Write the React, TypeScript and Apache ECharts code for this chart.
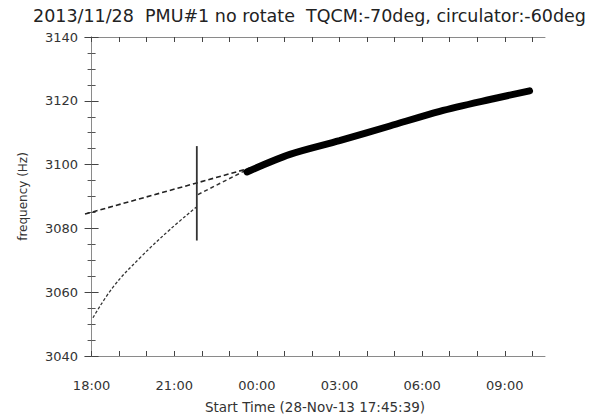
import React, { useEffect, useRef } from "react";
import * as echarts from "echarts";

// hours relative to 18:00 on 28-Nov-13 (start 17:45:39 = -0.2392 h)
const titleText = "2013/11/28  PMU#1 no rotate  TQCM:-70deg, circulator:-60deg";
const xName = "Start Time (28-Nov-13 17:45:39)";
const yName = "frequency (Hz)";
const xLabelHours = [0, 3, 6, 9, 12, 15];
const xTickHours = [0, 1, 2, 3, 4, 5, 6, 7, 8, 9, 10, 11, 12, 13, 14, 15, 16];
const xMin = -0.2392;
const xMax = 16.46;

const upperLine: [number, number][] = [
  [-0.2392, 3084.5],
  [5.75, 3098.9],
];
const lowerCurve: [number, number][] = [
  [0.05, 3052.0],
  [0.78, 3061.6],
  [1.76, 3070.8],
  [2.84, 3079.6],
  [3.79, 3086.6],
];
const lowerLink: [number, number][] = [
  [3.86, 3090.6],
  [5.75, 3098.9],
];
const measured: [number, number][] = [
  [5.64, 3097.7],
  [7.2, 3103.2],
  [9.0, 3107.5],
  [10.83, 3112.1],
  [12.64, 3116.7],
  [14.46, 3120.4],
  [15.9, 3123.1],
];
const markerBar: [number, number][] = [
  [3.82, 3076.2],
  [3.82, 3105.8],
];

const FONT = "DejaVu Sans, Verdana, sans-serif";

function fmtHour(v: number): string {
  const h = (((18 + Math.round(v)) % 24) + 24) % 24;
  return (h < 10 ? "0" : "") + h + ":00";
}

export default function App() {
  const ref = useRef<HTMLDivElement>(null);
  useEffect(() => {
    if (!ref.current) return;
    const chart = echarts.init(ref.current, undefined, { renderer: "svg" });
    const axisLine = { show: true, lineStyle: { color: "#8a8a8a", width: 1 } };
    const xCommon = {
      type: "value" as const,
      min: xMin,
      max: xMax,
      axisLine,
      splitLine: { show: false },
    };
    const yCommon = {
      type: "value" as const,
      min: 3040,
      max: 3140,
      interval: 20,
      axisLine,
      splitLine: { show: false },
      axisTick: { show: true, inside: true, length: 7, lineStyle: { color: "#444" } },
      minorTick: { show: true, splitNumber: 4, length: 4, lineStyle: { color: "#555" } },
    };
    chart.setOption({
      animation: false,
      backgroundColor: "#fff",
      title: {
        text: titleText,
        left: 28,
        top: 2,
        textStyle: { fontFamily: FONT, fontSize: 17.5, fontWeight: "normal", color: "#222" },
      },
      grid: { left: 85, right: 48, top: 37, bottom: 56, containLabel: false },
      xAxis: [
        {
          ...xCommon,
          position: "bottom",
          name: xName,
          nameLocation: "middle",
          nameGap: 44,
          nameTextStyle: { fontFamily: FONT, fontSize: 13.5, color: "#333" },
          axisTick: {
            show: true,
            inside: true,
            length: 5,
            customValues: xTickHours,
            lineStyle: { color: "#444" },
          },
          axisLabel: {
            show: true,
            customValues: xLabelHours,
            formatter: (v: number) => fmtHour(v),
            margin: 23,
            fontFamily: FONT,
            fontSize: 13,
            color: "#333",
          },
        },
        {
          ...xCommon,
          position: "top",
          axisTick: {
            show: true,
            inside: true,
            length: 5,
            customValues: xTickHours,
            lineStyle: { color: "#444" },
          },
          axisLabel: { show: false },
        },
      ],
      yAxis: [
        {
          ...yCommon,
          position: "left",
          name: yName,
          nameLocation: "middle",
          nameGap: 56,
          nameRotate: 90,
          nameTextStyle: { fontFamily: FONT, fontSize: 12, color: "#333" },
          axisLabel: {
            show: true,
            margin: 7,
            formatter: (v: number) => String(v),
            fontFamily: FONT,
            fontSize: 13,
            color: "#333",
          },
        },
        {
          ...yCommon,
          position: "right",
          axisLabel: { show: false },
        },
      ],
      series: [
        {
          type: "line",
          data: upperLine,
          symbol: "none",
          lineStyle: { color: "#222", width: 1.6, type: [5, 3] },
        },
        {
          type: "line",
          data: lowerCurve,
          symbol: "none",
          smooth: 0.4,
          lineStyle: { color: "#333", width: 1.3, type: [3, 2] },
        },
        {
          type: "line",
          data: lowerLink,
          symbol: "none",
          lineStyle: { color: "#333", width: 1.5, type: [4, 3] },
        },
        {
          type: "line",
          data: measured,
          symbol: "none",
          smooth: 0.3,
          lineStyle: { color: "#000", width: 7, cap: "round" },
        },
        {
          type: "line",
          data: markerBar,
          symbol: "none",
          lineStyle: { color: "#333", width: 1.8 },
        },
      ],
    });
    return () => chart.dispose();
  }, []);
  return (
    <div
      ref={ref}
      style={{ position: "fixed", left: 0, top: 0, width: 593, height: 419, background: "#fff" }}
    />
  );
}
